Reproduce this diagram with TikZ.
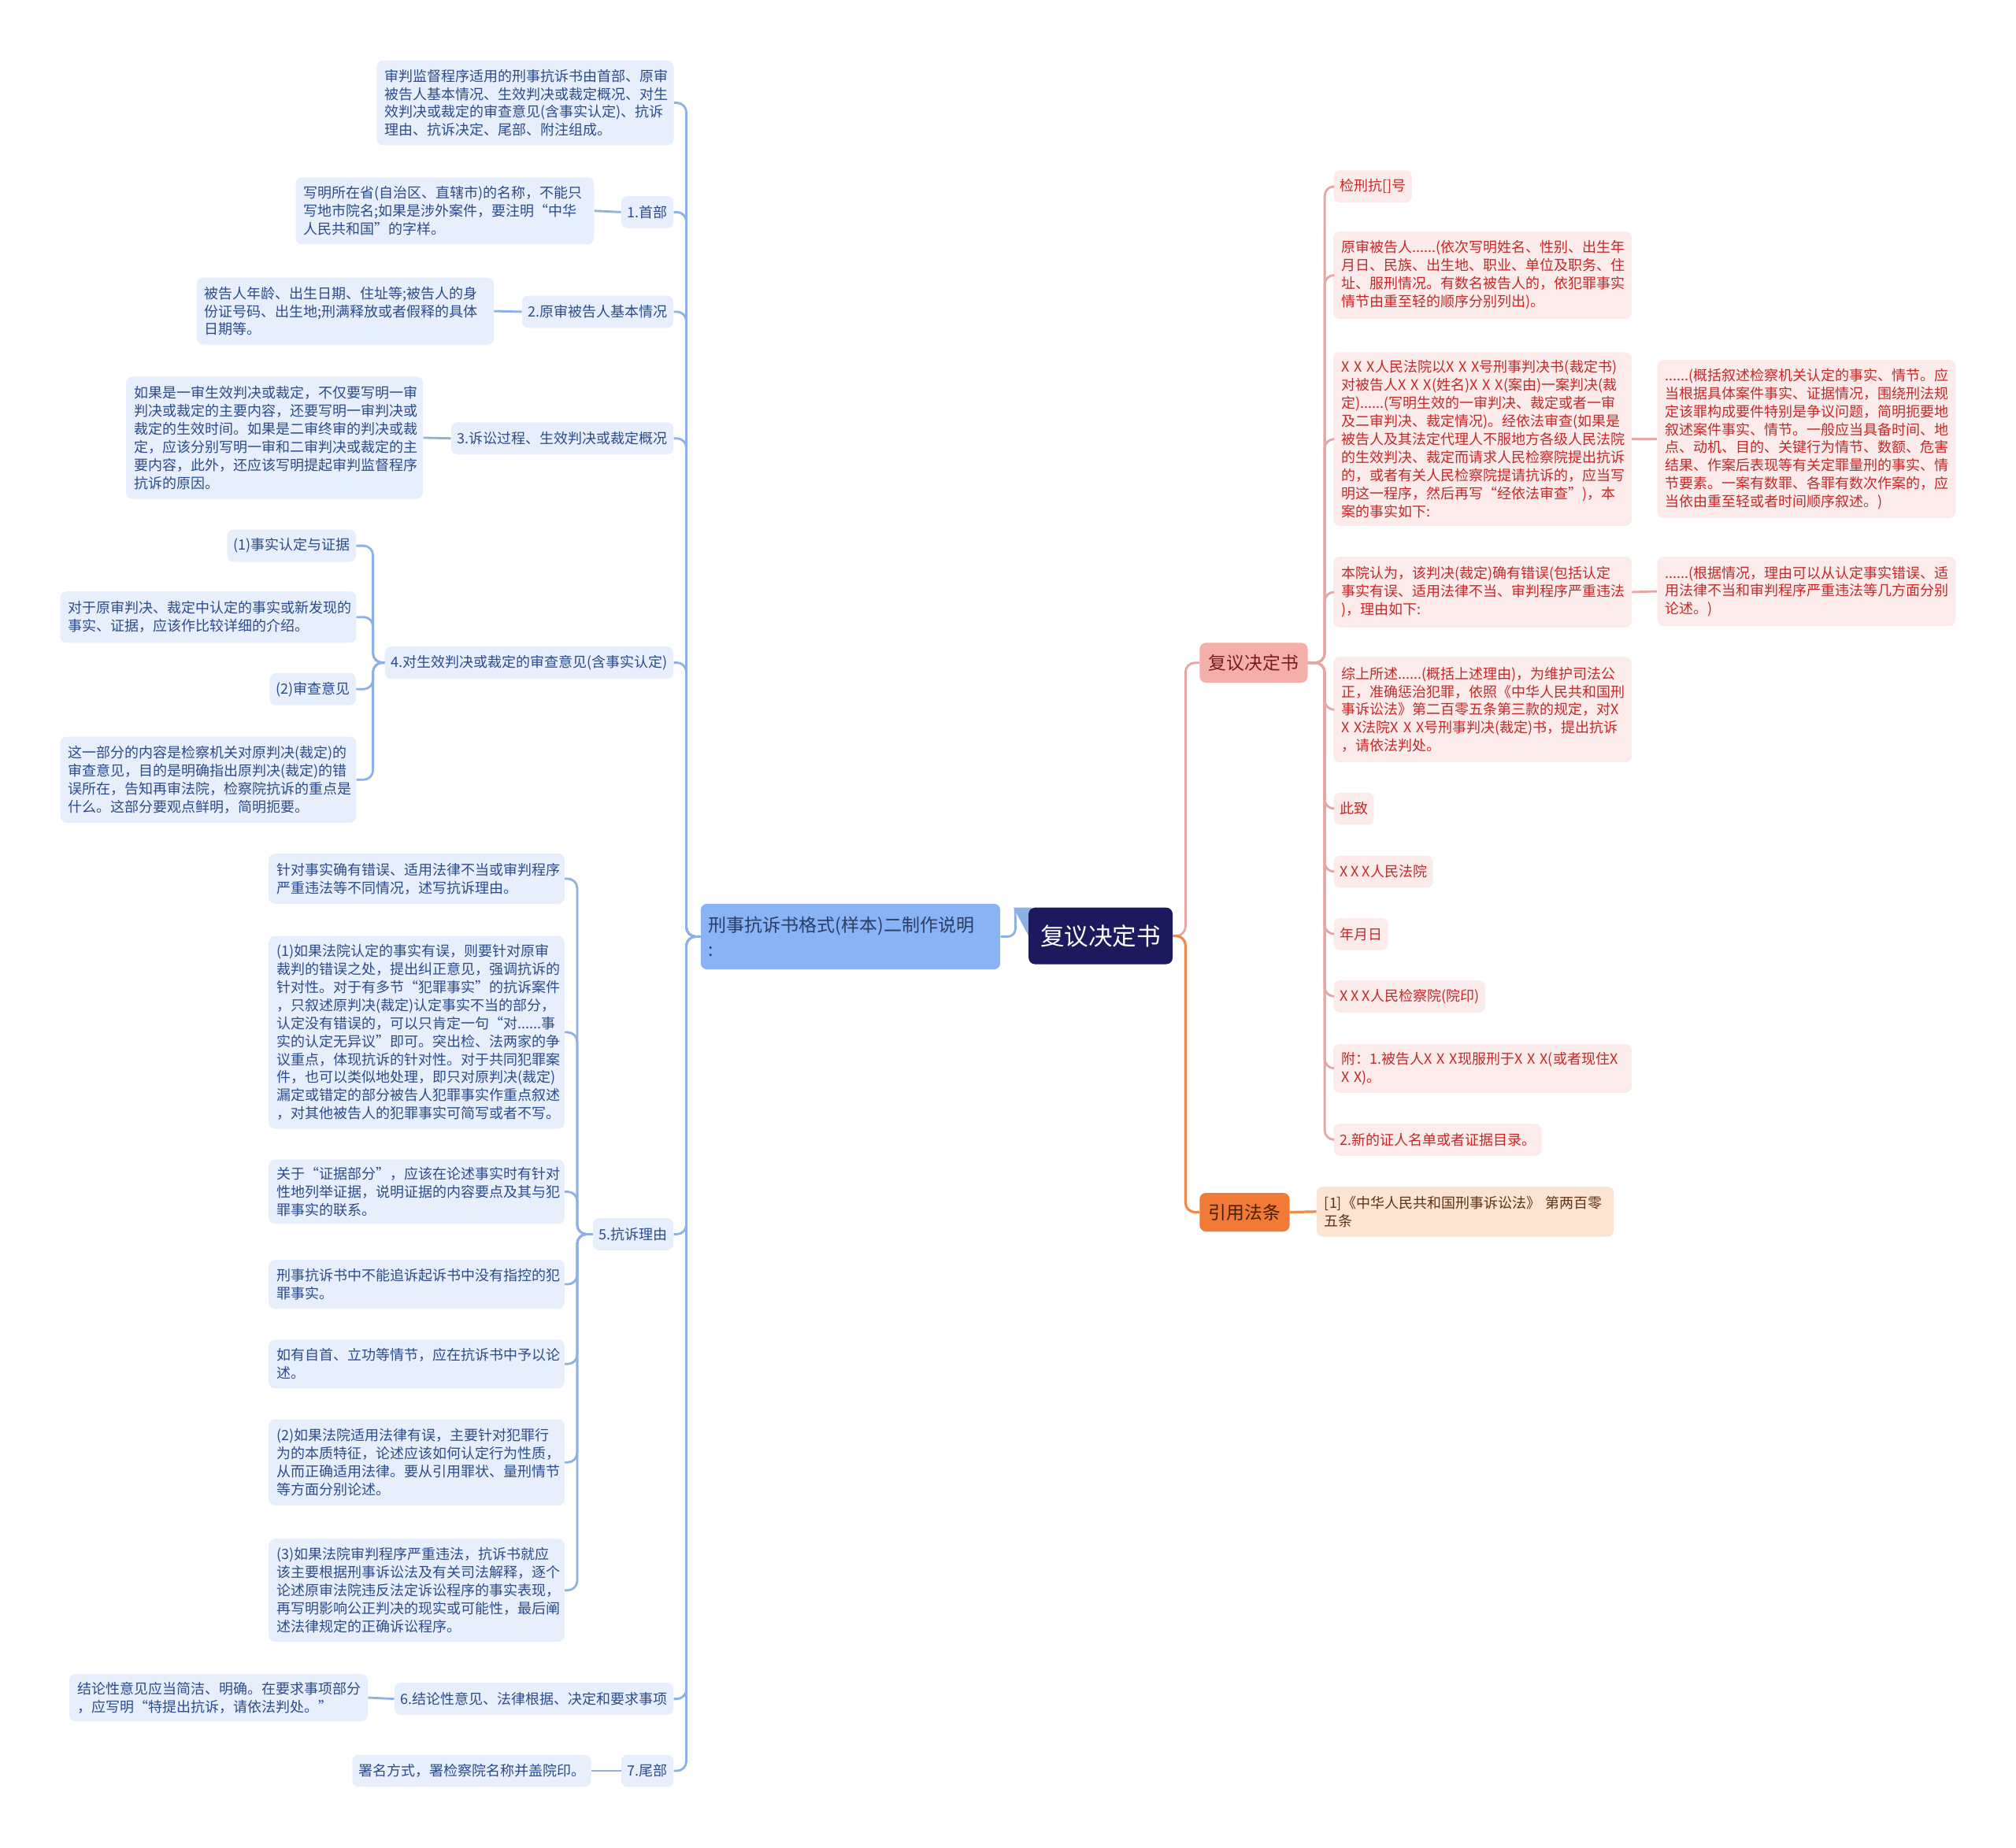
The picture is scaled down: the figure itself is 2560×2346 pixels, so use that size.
\documentclass[tikz,border=0pt]{standalone}
\usepackage{fontspec}
\setmainfont{Noto Sans CJK SC}
\definecolor{cBF}{HTML}{E7EFFC}
\definecolor{cBT}{HTML}{2B4C8C}
\definecolor{cBL}{HTML}{8DB0E6}
\definecolor{cLM}{HTML}{8AB3F5}
\definecolor{cLMt}{HTML}{2C3E66}
\definecolor{cRoot}{HTML}{1B1A5C}
\definecolor{cPK}{HTML}{F5AFAB}
\definecolor{cPKt}{HTML}{7A1C1C}
\definecolor{cPF}{HTML}{FCEBEB}
\definecolor{cPT}{HTML}{C62828}
\definecolor{cPL}{HTML}{E8A5A5}
\definecolor{cOR}{HTML}{F27A37}
\definecolor{cORt}{HTML}{4A1E00}
\definecolor{cOF}{HTML}{FDE3D2}
\definecolor{cOT}{HTML}{5C3317}
\definecolor{cOL}{HTML}{EE8A4A}
\newcommand\mmbox[7]{%
  \pgfmathsetmacro\mmcx{(#3+#5)/2}\pgfmathsetmacro\mmcy{(#4+#6)/2}%
  \pgfmathsetmacro\mmtw{(#5-#3)/2-10}\pgfmathsetmacro\mmmh{(#6-#4)/2}%
  \node[#2, text width=\mmtw pt, minimum height=\mmmh pt] (#1) at (\mmcx,\mmcy) {#7};}
\newcommand\mmone[6]{\node[#2, anchor=#3, inner xsep=3.8pt, minimum height=20.4pt] (#1) at (#4,#5) {#6};}
\tikzset{
  base/.style={rectangle, rounded corners=4pt, inner xsep=5pt, inner ysep=1pt, align=left,
    font=\fontsize{9pt}{11.45pt}\selectfont},
  bleaf/.style={base, fill=cBF, text=cBT},
  pleaf/.style={base, fill=cPF, text=cPT},
  oleaf/.style={base, fill=cOF, text=cOT},
  lmnode/.style={base, fill=cLM, text=cLMt, font=\fontsize{11.5pt}{15.5pt}\selectfont},
  rootnode/.style={base, fill=cRoot, text=white, align=center, font=\fontsize{15.3pt}{18pt}\selectfont},
  pknode/.style={base, fill=cPK, text=cPKt, align=center, font=\fontsize{11.4pt}{14pt}\selectfont},
  ornode/.style={base, fill=cOR, text=cORt, align=center, font=\fontsize{11.4pt}{14pt}\selectfont},
  blink/.style={draw=cBL, line width=1.4pt, rounded corners=6pt},
  plink/.style={draw=cPL, line width=1.4pt, rounded corners=6pt},
  olink/.style={draw=cOL, line width=1.6pt, rounded corners=6pt},
}
\begin{document}
\begin{tikzpicture}[x=0.5pt,y=-0.5pt]
\useasboundingbox (0,0) rectangle (2560,2346);
\fill[white] (0,0) rectangle (2560,2346);
% wedge behind root
\fill[cBL] (1287,1152.7) -- (1310,1152.7) -- (1310,1196) -- cycle;
% center
\mmbox{root}{rootnode}{1306.2}{1152.7}{1489.0}{1224.5}{复议决定书}
\mmbox{lm}{lmnode}{889.8}{1147.8}{1270.2}{1231.1}{刑事抗诉书格式(样本)二制作说明\\:}
% left side
\mmbox{b0}{bleaf}{478.4}{76.7}{855.5}{184.5}{审判监督程序适用的刑事抗诉书由首部、原审\\被告人基本情况、生效判决或裁定概况、对生\\效判决或裁定的审查意见(含事实认定)、抗诉\\理由、抗诉决定、尾部、附注组成。}
\mmone{h1}{bleaf}{east}{855.5}{269.4}{1.首部}
\mmbox{c1}{bleaf}{375.5}{225.3}{754.3}{310.2}{写明所在省(自治区、直辖市)的名称，不能只\\写地市院名;如果是涉外案件，要注明“中华\\人民共和国”的字样。}
\mmone{h2}{bleaf}{east}{855.5}{395.9}{2.原审被告人基本情况}
\mmbox{c2}{bleaf}{249.8}{352.7}{627.0}{437.6}{被告人年龄、出生日期、住址等;被告人的身\\份证号码、出生地;刑满释放或者假释的具体\\日期等。}
\mmone{h3}{bleaf}{east}{855.5}{556.7}{3.诉讼过程、生效判决或裁定概况}
\mmbox{c3}{bleaf}{160.0}{478.4}{537.2}{633.5}{如果是一审生效判决或裁定，不仅要写明一审\\判决或裁定的主要内容，还要写明一审判决或\\裁定的生效时间。如果是二审终审的判决或裁\\定，应该分别写明一审和二审判决或裁定的主\\要内容，此外，还应该写明提起审判监督程序\\抗诉的原因。}
\mmone{h4}{bleaf}{east}{855.5}{841.6}{4.对生效判决或裁定的审查意见(含事实认定)}
\mmone{c41}{bleaf}{east}{452.3}{693.1}{(1)事实认定与证据}
\mmbox{c42}{bleaf}{76.7}{751.0}{452.3}{816.3}{对于原审判决、裁定中认定的事实或新发现的\\事实、证据，应该作比较详细的介绍。}
\mmone{c43}{bleaf}{east}{452.3}{875.2}{(2)审查意见}
\mmbox{c44}{bleaf}{76.7}{935.5}{452.3}{1044.9}{这一部分的内容是检察机关对原判决(裁定)的\\审查意见，目的是明确指出原判决(裁定)的错\\误所在，告知再审法院，检察院抗诉的重点是\\什么。这部分要观点鲜明，简明扼要。}
\mmone{h5}{bleaf}{east}{855.5}{1567.4}{5.抗诉理由}
\mmbox{c51}{bleaf}{341.2}{1084.1}{716.8}{1147.8}{针对事实确有错误、适用法律不当或审判程序\\严重违法等不同情况，述写抗诉理由。}
\mmbox{c52}{bleaf}{341.2}{1188.6}{716.8}{1433.5}{(1)如果法院认定的事实有误，则要针对原审\\裁判的错误之处，提出纠正意见，强调抗诉的\\针对性。对于有多节“犯罪事实”的抗诉案件\\，只叙述原判决(裁定)认定事实不当的部分，\\认定没有错误的，可以只肯定一句“对......事\\实的认定无异议”即可。突出检、法两家的争\\议重点，体现抗诉的针对性。对于共同犯罪案\\件，也可以类似地处理，即只对原判决(裁定)\\漏定或错定的部分被告人犯罪事实作重点叙述\\，对其他被告人的犯罪事实可简写或者不写。}
\mmbox{c53}{bleaf}{341.2}{1472.7}{716.8}{1554.3}{关于“证据部分”，应该在论述事实时有针对\\性地列举证据，说明证据的内容要点及其与犯\\罪事实的联系。}
\mmbox{c54}{bleaf}{341.2}{1600.0}{716.8}{1662.1}{刑事抗诉书中不能追诉起诉书中没有指控的犯\\罪事实。}
\mmbox{c55}{bleaf}{341.2}{1701.3}{716.8}{1763.3}{如有自首、立功等情节，应在抗诉书中予以论\\述。}
\mmbox{c56}{bleaf}{341.2}{1802.5}{716.8}{1911.9}{(2)如果法院适用法律有误，主要针对犯罪行\\为的本质特征，论述应该如何认定行为性质，\\从而正确适用法律。要从引用罪状、量刑情节\\等方面分别论述。}
\mmbox{c57}{bleaf}{341.2}{1954.3}{716.8}{2085.0}{(3)如果法院审判程序严重违法，抗诉书就应\\该主要根据刑事诉讼法及有关司法解释，逐个\\论述原审法院违反法定诉讼程序的事实表现，\\再写明影响公正判决的现实或可能性，最后阐\\述法律规定的正确诉讼程序。}
\mmone{h6}{bleaf}{east}{855.5}{2157.6}{6.结论性意见、法律根据、决定和要求事项}
\mmbox{c6}{bleaf}{88.2}{2125.8}{467.0}{2186.2}{结论性意见应当简洁、明确。在要求事项部分\\，应写明“特提出抗诉，请依法判处。”}
\mmone{h7}{bleaf}{east}{855.5}{2249.0}{7.尾部}
\mmone{c7}{bleaf}{east}{751.0}{2249.0}{署名方式，署检察院名称并盖院印。}
% right side
\mmbox{pk}{pknode}{1523.3}{816.4}{1660.5}{867.0}{复议决定书}
\mmbox{on}{ornode}{1523.3}{1515.0}{1637.6}{1564.0}{引用法条}
\mmone{p1}{pleaf}{west}{1693.1}{236.8}{检刑抗[]号}
\mmbox{p2}{pleaf}{1693.1}{293.9}{2071.9}{404.9}{原审被告人......(依次写明姓名、性别、出生年\\月日、民族、出生地、职业、单位及职务、住\\址、服刑情况。有数名被告人的，依犯罪事实\\情节由重至轻的顺序分别列出)。}
\mmbox{p3}{pleaf}{1693.1}{447.4}{2071.9}{667.8}{X X X人民法院以X X X号刑事判决书(裁定书)\\对被告人X X X(姓名)X X X(案由)一案判决(裁\\定)......(写明生效的一审判决、裁定或者一审\\及二审判决、裁定情况)。经依法审查(如果是\\被告人及其法定代理人不服地方各级人民法院\\的生效判决、裁定而请求人民检察院提出抗诉\\的，或者有关人民检察院提请抗诉的，应当写\\明这一程序，然后再写“经依法审查”)，本\\案的事实如下:}
\mmbox{p3a}{pleaf}{2104.6}{457.2}{2483.3}{658.0}{......(概括叙述检察机关认定的事实、情节。应\\当根据具体案件事实、证据情况，围绕刑法规\\定该罪构成要件特别是争议问题，简明扼要地\\叙述案件事实、情节。一般应当具备时间、地\\点、动机、目的、关键行为情节、数额、危害\\结果、作案后表现等有关定罪量刑的事实、情\\节要素。一案有数罪、各罪有数次作案的，应\\当依由重至轻或者时间顺序叙述。)}
\mmbox{p4}{pleaf}{1693.1}{707.0}{2071.9}{796.8}{本院认为，该判决(裁定)确有错误(包括认定\\事实有误、适用法律不当、审判程序严重违法\\)，理由如下:}
\mmbox{p4a}{pleaf}{2104.6}{707.0}{2483.3}{795.1}{......(根据情况，理由可以从认定事实错误、适\\用法律不当和审判程序严重违法等几方面分别\\论述。)}
\mmbox{p5}{pleaf}{1693.1}{834.3}{2071.9}{968.2}{综上所述......(概括上述理由)，为维护司法公\\正，准确惩治犯罪，依照《中华人民共和国刑\\事诉讼法》第二百零五条第三款的规定，对X\\X X法院X X X号刑事判决(裁定)书，提出抗诉\\，请依法判处。}
\mmone{p6}{pleaf}{west}{1693.1}{1027.0}{此致}
\mmone{p7}{pleaf}{west}{1693.1}{1107.0}{X X X人民法院}
\mmone{p8}{pleaf}{west}{1693.1}{1186.2}{年月日}
\mmone{p9}{pleaf}{west}{1693.1}{1265.4}{X X X人民检察院(院印)}
\mmbox{p10}{pleaf}{1693.1}{1325.8}{2071.9}{1387.8}{附：1.被告人X X X现服刑于X X X(或者现住X\\ X X)。}
\mmone{p11}{pleaf}{west}{1693.1}{1447.4}{2.新的证人名单或者证据目录。}
\mmbox{o1}{oleaf}{1671.9}{1507.0}{2049.0}{1570.6}{[1]《中华人民共和国刑事诉讼法》 第两百零\\五条}
% connectors left
\foreach \n in {b0,h1,h2,h3,h4,h5,h6,h7}
  \draw[blink] (lm.west) -- ++(-17.9,0) |- (\n.east);
\draw[blink] (h1.west) -- (c1.east);
\draw[blink] (h2.west) -- (c2.east);
\draw[blink] (h3.west) -- (c3.east);
\draw[blink] (h6.west) -- (c6.east);
\draw[blink] (h7.west) -- (c7.east);
\foreach \n in {c41,c42,c43,c44}
  \draw[blink] (h4.west) -- ++(-14.7,0) |- (\n.east);
\foreach \n in {c51,c52,c53,c54,c55,c56,c57}
  \draw[blink] (h5.west) -- ++(-19.6,0) |- (\n.east);
\draw[blink, rounded corners=5pt] (lm.east) -- ++(19,0) -- (1289.2,1153.5);
% connectors right
\draw[plink] (root.east) -- ++(16,0) |- (pk.west);
\draw[olink] (root.east) -- ++(16,0) |- (on.west);
\foreach \n in {p1,p2,p3,p4,p5,p6,p7,p8,p9,p10,p11}
  \draw[plink] (pk.east) -- ++(21.2,0) |- (\n.west);
\draw[plink] (p3.east) -- (p3a.west);
\draw[plink] (p4.east) -- (p4a.west);
\draw[olink] (on.east) -- (o1.west);
\end{tikzpicture}
\end{document}
